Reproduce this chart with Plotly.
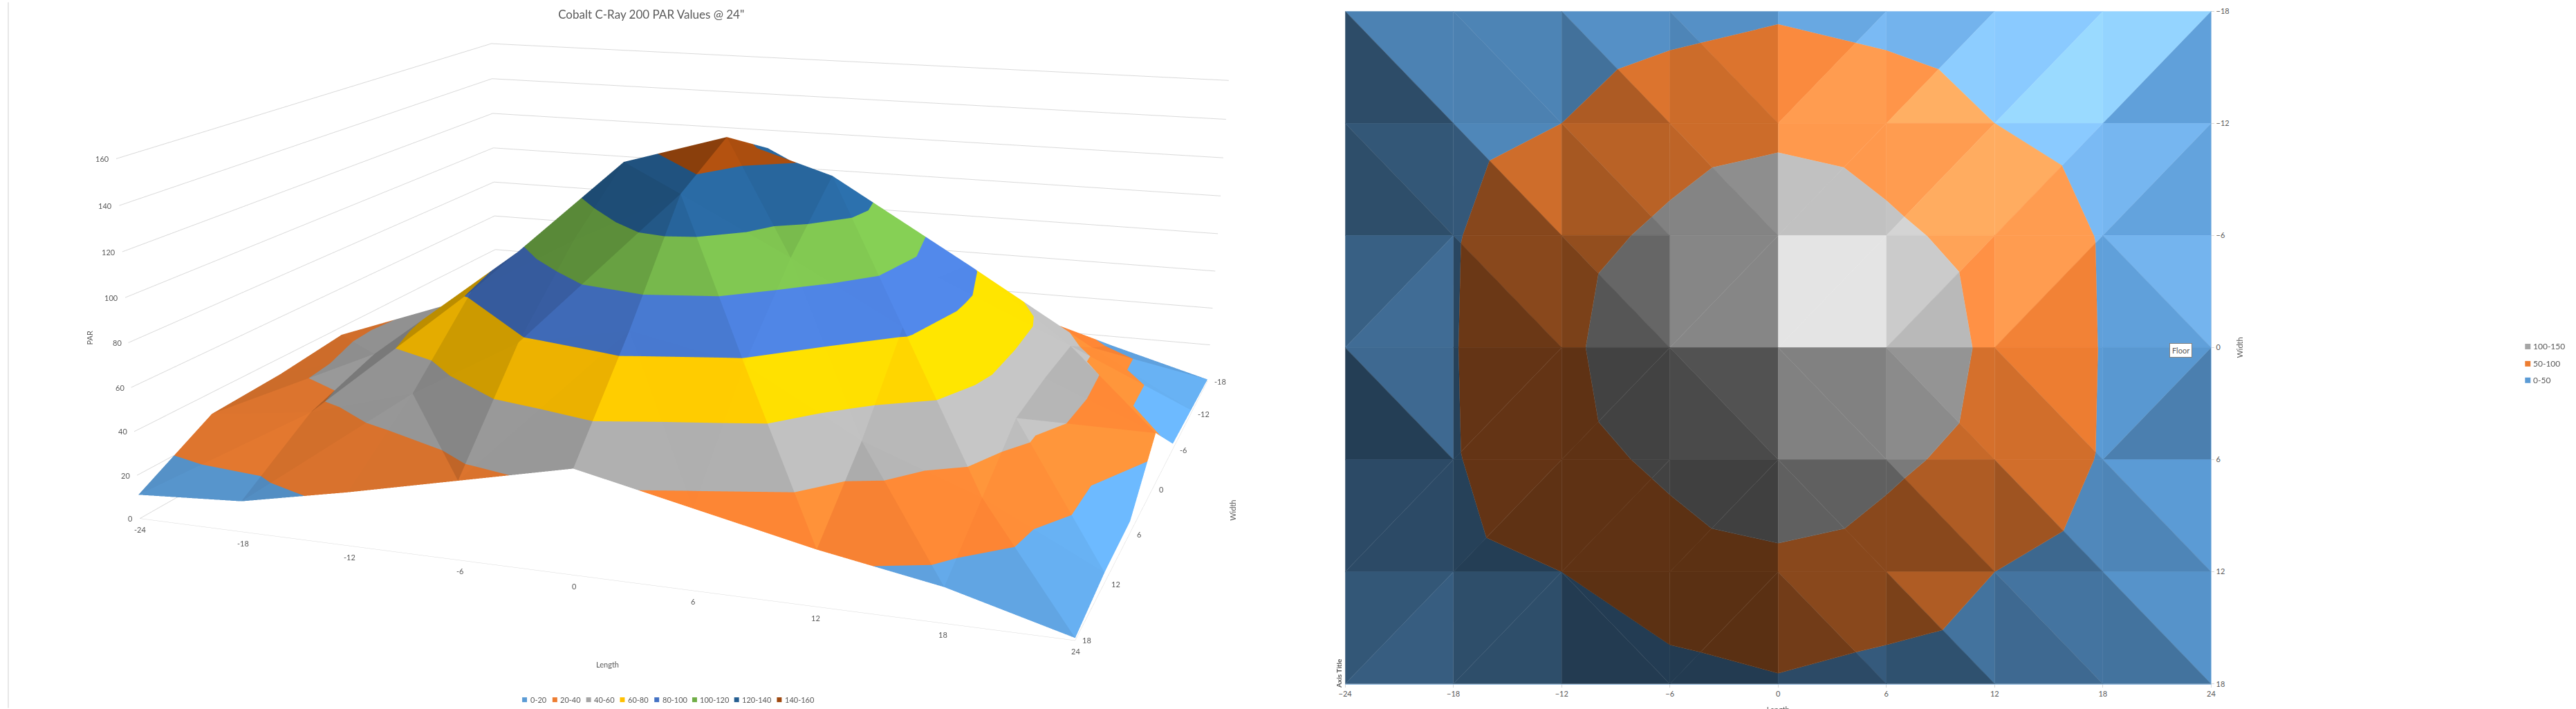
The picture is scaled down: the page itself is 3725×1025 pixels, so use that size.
import numpy as np
import plotly.graph_objects as go

LENGTHS = [-24, -18, -12, -6, 0, 6, 12, 18, 24]
WIDTHS = [-18, -12, -6, 0, 6, 12, 18]
R1 = [10, 22, 20, 35, 45, 35, 20, 15, 1]
R2 = [15, 34, 50, 78, 88, 78, 50, 30, 2]
R3 = [24, 47, 82, 110, 134, 110, 83, 47, 3]
R4 = [36, 48, 90, 135, 150, 135, 91, 48, 27]
R5 = [32, 47, 82, 110, 135, 110, 83, 47, 6]
R6 = [30, 36, 50, 78, 88, 78, 50, 31, 5]
R7 = [11, 14, 24, 35, 46, 35, 24, 15, 1]
PAR = np.array([R1, R2, R3, R4, R5, R6, R7], float)
DIAG = ["ddddaaaa", "ddddaaaa", "addaaaad", "daadddda", "aaaadddd", "aadadddd"]
BANDS_3D = [0, 20, 40, 60, 80, 100, 120, 140, 160]
NAMES_3D = ["0-20", "20-40", "40-60", "60-80", "80-100", "100-120", "120-140", "140-160"]
COLORS_3D = ["#5B9BD5", "#ED7D31", "#A5A5A5", "#FFC000", "#4472C4", "#70AD47", "#255E91", "#9E480E"]
BANDS_2D = [0, 50, 100, 160]
NAMES_2D = ["0-50", "50-100", "100-150"]
COLORS_2D = ["#5B9BD5", "#ED7D31", "#A5A5A5"]
PAR_TICKS = [0, 20, 40, 60, 80, 100, 120, 140, 160]
# brightness of the two facets of each grid cell on the floor view
FACET_1 = [.84, .49, .85, .83, .93, .73, .93, .86, 1.08, 1.2, 1.15, 1.32, 1.3, 1.4, 1.36, 1.03]
FACET_2 = [.56, .5, .87, .57, .78, .7, .86, .8, 1.18, 1.18, 1.2, 1.3, 1.3, 1.2, 1.17, 1.05]
FACET_3 = [.62, .7, .58, .45, .62, .52, .81, .81, 1.4, 1.4, 1.24, 1.13, 1.2, 1.03, 1.16, 1.03]
FACET_4 = [.68, .4, .42, .42, .4, .4, .5, .45, .78, .78, .9, .84, 1.0, .88, .98, .82]
FACET_5 = [.48, .48, .42, .4, .4, .4, .39, .39, .58, .58, .74, .58, .88, .67, 1.0, .86]
FACET_6 = [.56, .6, .5, .5, .39, .38, .38, .38, .58, .48, .74, .52, .75, .68, .95, .74]
FACETS = [FACET_1, FACET_2, FACET_3, FACET_4, FACET_5, FACET_6]
LEGEND_3D_X = [749, 793, 842, 891, 941, 996, 1057, 1119]
LEGEND_2D_Y = [549, 525, 500]
TEXT = "#595959"
FONT = "Lato"
# The tall page gives the 3D scene the long lens of the reference; only the visible 1025 px band is shown.
PAGE_W, PAGE_H, PAGE_TOP = 3725, 2810, -800
EYE = dict(x=0.8240, y=-2.4985, z=0.6225)
CENTER = dict(x=-0.0687, y=-0.0712, z=-0.1509)
ASPECT = dict(x=1.0, y=0.9439, z=0.3881)
SCENE_RIGHT = 1864


def triangles():
    for j in range(len(WIDTHS) - 1):
        for i in range(len(LENGTHS) - 1):
            c = [np.array((LENGTHS[i + a], WIDTHS[j + b], PAR[j + b, i + a]), float)
                 for a, b in [(0, 0), (1, 0), (1, 1), (0, 1)]]
            if DIAG[j][i] == "d":
                yield [c[0], c[1], c[2]], FACETS[j][2 * i]
                yield [c[0], c[2], c[3]], FACETS[j][2 * i + 1]
            else:
                yield [c[0], c[1], c[3]], FACETS[j][2 * i]
                yield [c[1], c[2], c[3]], FACETS[j][2 * i + 1]


def clip(poly, level, keep_above):
    out = []
    n = len(poly)
    for k in range(n):
        p, q = poly[k], poly[(k + 1) % n]
        pin = p[2] >= level if keep_above else p[2] <= level
        qin = q[2] >= level if keep_above else q[2] <= level
        if pin:
            out.append(p)
        if pin != qin:
            t = (level - p[2]) / (q[2] - p[2])
            out.append(p + t * (q - p))
    return out


def gradient(tri):
    a, b, c = tri
    n = np.cross(b - a, c - a)
    return -n[0] / n[2], -n[1] / n[2]


def tint(color, f):
    rgb = [int(color[k:k + 2], 16) for k in (1, 3, 5)]
    return "rgb(%d,%d,%d)" % tuple(min(255, round(v * f)) for v in rgb)


def tint_floor(color, f):
    if f <= 1:
        return tint(color, f)
    rgb = [int(color[k:k + 2], 16) for k in (1, 3, 5)]
    return "rgb(%d,%d,%d)" % tuple(min(255, round(v + 157 * (f - 1))) for v in rgb)


def shade_3d(tri):
    gl, gw = gradient(tri)
    return min(1.2, max(0.62, 0.96 - 0.04 * gl - 0.005 * gw))


def split(tri, bands):
    for k in range(len(bands) - 1):
        poly = clip(list(tri), bands[k], True)
        if poly:
            poly = clip(poly, bands[k + 1], False)
        if len(poly) >= 3:
            yield k, poly


vx, vy, vz, fi, fj, fk, fc = [], [], [], [], [], [], []
for tri, _ in triangles():
    s = shade_3d(tri)
    for k, poly in split(tri, BANDS_3D):
        base = len(vx)
        for p in poly:
            vx.append(p[0]); vy.append(-p[1]); vz.append(p[2])
        for m in range(1, len(poly) - 1):
            fi.append(base); fj.append(base + m); fk.append(base + m + 1)
            fc.append(tint(COLORS_3D[k], s))

fig = go.Figure()
fig.add_trace(go.Mesh3d(x=vx, y=vy, z=vz, i=fi, j=fj, k=fk, facecolor=fc, flatshading=True,
                        lighting=dict(ambient=1, diffuse=0, specular=0, fresnel=0, roughness=1),
                        hoverinfo="skip", showscale=False, scene="scene"))

for tri, s in triangles():
    for k, poly in split(tri, BANDS_2D):
        col = tint_floor(COLORS_2D[k], s)
        fig.add_trace(go.Scatter(x=[p[0] for p in poly], y=[p[1] for p in poly], mode="lines", fill="toself",
                                 fillcolor=col, line=dict(color=col, width=0.6), hoverinfo="skip",
                                 showlegend=False, xaxis="x", yaxis="y"))

tick_font = dict(family=FONT, size=11, color=TEXT)
scene_notes = []
for z in PAR_TICKS:
    scene_notes.append(dict(x=-24, y=-18, z=z, text=str(z), showarrow=False, xanchor="right", xshift=-8, font=tick_font))
for L in LENGTHS:
    scene_notes.append(dict(x=L, y=-18, z=0, text=str(L), showarrow=False, yshift=-16, font=tick_font))
for W in WIDTHS:
    scene_notes.append(dict(x=24, y=-W, z=0, text=str(W), showarrow=False, xanchor="left", xshift=8, font=tick_font))


def px_x(x):
    return x / PAGE_W


def px_y(y):
    return 1 - (y - PAGE_TOP) / PAGE_H


def note(text, x, y, angle=0, size=11, xanchor="center", **kw):
    return dict(text=text, x=px_x(x), y=px_y(y), xref="paper", yref="paper", showarrow=False, textangle=angle,
                xanchor=xanchor, yanchor="middle", font=dict(family=FONT, size=size, color=TEXT), **kw)


def swatch(x, y, half, color):
    return dict(type="rect", xref="paper", yref="paper", x0=px_x(x - half), x1=px_x(x + half), y0=px_y(y + half),
                y1=px_y(y - half), fillcolor=color, line=dict(width=0))


notes = [
    note("Length", 872, 962),
    note("Width", 1781, 738, angle=-90),
    note("PAR", 120, 487, angle=-90),
    note("<b>Axis Title</b>", 1935, 975, angle=-90, size=10),
    note("Floor", 3158, 506, size=11, bgcolor="white", bordercolor="#7F7F7F", borderwidth=1, borderpad=3),
]
shapes = [dict(type="line", xref="paper", yref="paper", x0=px_x(2), x1=px_x(2), y0=px_y(1025), y1=px_y(0),
               line=dict(color="#D0D0D0", width=1))]
for name, col, x in zip(NAMES_3D, COLORS_3D, LEGEND_3D_X):
    shapes.append(swatch(x + 3, 1013, 3.5, col))
    notes.append(note(name, x + 9, 1013, xanchor="left"))
for name, col, y in zip(NAMES_2D, COLORS_2D, LEGEND_2D_Y):
    shapes.append(swatch(3662, y, 4, col))
    notes.append(note(name, 3668, y, size=12, xanchor="left"))


def hidden3d(rng, **kw):
    return dict(range=rng, showgrid=False, zeroline=False, showticklabels=False, showbackground=False,
                showspikes=False, showline=True, linecolor="#D9D9D9", title=dict(text=""), **kw)


axis2d = dict(showgrid=False, zeroline=False, ticks="outside", ticklen=4, tickcolor="#D9D9D9",
              showline=True, linecolor="#9DC3E6", tickfont=tick_font)

fig.update_layout(
    width=PAGE_W, height=PAGE_H, margin=dict(l=0, r=0, t=0, b=0), paper_bgcolor="white", plot_bgcolor="white",
    showlegend=False,
    title=dict(text='Cobalt C-Ray 200 PAR Values @ 24"', x=936 / PAGE_W, xanchor="center", xref="paper",
               y=px_y(18), yanchor="middle", yref="paper", font=dict(family=FONT, size=17, color=TEXT)),
    scene=dict(domain=dict(x=[0, SCENE_RIGHT / PAGE_W], y=[0, 1]), aspectmode="manual", aspectratio=ASPECT,
               camera=dict(eye=EYE, center=CENTER, up=dict(x=0, y=0, z=1)),
               annotations=scene_notes,
               xaxis=hidden3d([-24, 24]), yaxis=hidden3d([-18, 18]),
               zaxis=dict(hidden3d([0, 160]), dtick=20, showgrid=True, gridcolor="#D9D9D9", showline=False)),
    xaxis=dict(axis2d, domain=[px_x(1944), px_x(3202)], range=[-24, 24], tickvals=LENGTHS, anchor="y",
               title=dict(text="Length", standoff=14, font=tick_font)),
    yaxis=dict(axis2d, domain=[px_y(990), px_y(13)], range=[18, -18], tickvals=WIDTHS, anchor="x", side="right",
               title=dict(text="Width", standoff=12, font=tick_font)),
    shapes=shapes,
    annotations=notes,
)
fig.write_html("out.html", post_script=f"document.documentElement.style.overflow='hidden';document.body.style.overflow='hidden';document.body.style.margin='0';document.body.style.marginTop='{PAGE_TOP}px';")
